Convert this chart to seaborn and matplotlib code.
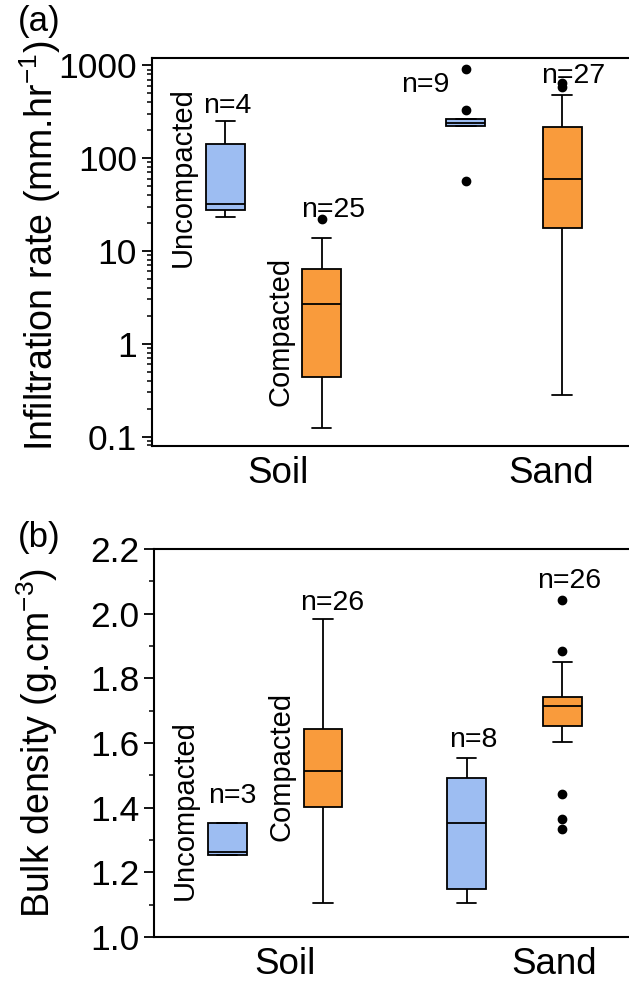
import matplotlib
matplotlib.use("Agg")
import matplotlib.pyplot as plt
from matplotlib.ticker import FuncFormatter, LogLocator, MultipleLocator, FixedLocator
import pandas as pd
import seaborn as sns

materials = ["Soil", "Sand"]
states = ["Uncompacted", "Compacted"]
box_colors = ["#9dbdf2", "#f99b3c"]

# Infiltration rate (mm/hr): lower whisker, Q1, median, Q3, upper whisker
rate_soil_unc = [23.1, 27.4, 32.0, 141.0, 251.0]
rate_soil_cmp = [0.122, 0.436, 2.69, 6.35, 13.8]
rate_sand_unc = [223.0, 223.0, 237.0, 262.0, 262.0]
rate_sand_cmp = [0.283, 17.5, 59.0, 215.0, 479.0]
# Infiltration rate outliers
rate_soil_cmp_out = [21.9]
rate_sand_unc_out = [56.8, 330.0, 906.0]
rate_sand_cmp_out = [580.0, 640.0]
rate_counts = [4, 25, 9, 27]

# Bulk density (g/cm3): lower whisker, Q1, median, Q3, upper whisker
dens_soil_unc = [1.254, 1.254, 1.264, 1.353, 1.353]
dens_soil_cmp = [1.104, 1.403, 1.514, 1.643, 1.983]
dens_sand_unc = [1.104, 1.148, 1.354, 1.493, 1.553]
dens_sand_cmp = [1.603, 1.653, 1.714, 1.743, 1.852]
# Bulk density outliers
dens_sand_cmp_out = [1.335, 1.364, 1.442, 1.884, 2.042]
dens_counts = [3, 26, 8, 26]


def observations(summary, outliers=()):
    """Sample whose linear-percentile Tukey box equals the five-number summary."""
    lo, q1, med, q3, hi = summary
    low = sorted(v for v in outliers if v < lo)
    high = sorted(v for v in outliers if v > hi)
    m = max(len(low), len(high)) + 1
    lower = low + [lo] * (m - len(low))
    upper = [hi] * (m - len(high)) + high
    return lower + [q1] * m + [med] + [q3] * m + upper


def frame(groups):
    rows = []
    for (material, state), values in groups.items():
        rows += [{"material": material, "state": state, "value": v} for v in values]
    return pd.DataFrame(rows)


rate_df = frame({
    ("Soil", "Uncompacted"): observations(rate_soil_unc),
    ("Soil", "Compacted"): observations(rate_soil_cmp, rate_soil_cmp_out),
    ("Sand", "Uncompacted"): observations(rate_sand_unc, rate_sand_unc_out),
    ("Sand", "Compacted"): observations(rate_sand_cmp, rate_sand_cmp_out),
})
dens_df = frame({
    ("Soil", "Uncompacted"): observations(dens_soil_unc),
    ("Soil", "Compacted"): observations(dens_soil_cmp),
    ("Sand", "Uncompacted"): observations(dens_sand_unc),
    ("Sand", "Compacted"): observations(dens_sand_cmp, dens_sand_cmp_out),
})

sns.set_style("ticks")
plt.rcParams["font.family"] = ["Liberation Sans", "DejaVu Sans"]
plt.rcParams["mathtext.fontset"] = "custom"
plt.rcParams["mathtext.rm"] = "Liberation Sans"
plt.rcParams["mathtext.default"] = "regular"
for key in ("text.color", "axes.labelcolor", "axes.edgecolor",
            "xtick.color", "ytick.color"):
    plt.rcParams[key] = "black"

W, H = 629, 981
fig = plt.figure(figsize=(W / 100, H / 100), dpi=100)
ax1 = fig.add_axes([152.3 / W, 1 - 446 / H, 1 - 152.3 / W, (446 - 58.3) / H])
ax2 = fig.add_axes([154.3 / W, 1 - 937 / H, 1 - 154.3 / W, (937 - 549) / H])

box_kws = dict(x="material", y="value", hue="state", order=materials,
               hue_order=states, palette=box_colors, saturation=1,
               width=0.8, gap=0.595, whis=1.5, linecolor="black",
               linewidth=1.3, legend=False,
               flierprops=dict(marker="o", markerfacecolor="black",
                               markeredgecolor="black", markersize=6))

sns.boxplot(data=rate_df, ax=ax1, **box_kws)
sns.boxplot(data=dens_df, ax=ax2, **box_kws)

ax1.set_yscale("log")
ax1.set_ylim(0.079, 1190)
ax1.yaxis.set_major_locator(FixedLocator([0.1, 1, 10, 100, 1000]))
ax1.yaxis.set_major_formatter(FuncFormatter(lambda v, p: f"{v:g}"))
ax1.yaxis.set_minor_locator(LogLocator(base=10, subs=range(2, 10), numticks=20))

ax2.set_ylim(1.0, 2.2)
ax2.yaxis.set_major_locator(MultipleLocator(0.2))
ax2.yaxis.set_minor_locator(MultipleLocator(0.1))
ax2.yaxis.set_major_formatter(FuncFormatter(lambda v, p: f"{v:.1f}"))

for ax, ticks in ((ax1, [0.019, 1.154]), (ax2, [0.04, 1.166])):
    ax.set_xlim(-0.504, 1.478)
    ax.set_xticks(ticks)
    ax.set_xticklabels(materials)
    ax.set_xlabel("")
    ax.set_ylabel("")
    ax.tick_params(axis="x", length=0, labelsize=26.5, pad=7)
    ax.tick_params(axis="y", which="major", direction="out", length=7,
                   width=1.3, labelsize=25.5, pad=4)
    ax.tick_params(axis="y", which="minor", direction="out", length=3.5,
                   width=1.1)
    for side in ("left", "bottom", "top"):
        ax.spines[side].set_visible(True)
        ax.spines[side].set_linewidth(1.5)
    ax.spines["right"].set_visible(False)

# Sample-size labels
n_fs = 20.5
rate_n_pos = [(-0.193, 306), (0.247, 23.4), (0.63, 515), (1.245, 644)]
for (x, y), n in zip(rate_n_pos, rate_counts):
    ax1.text(x, y, f"n={n}", ha="center", va="baseline", fontsize=n_fs)
dens_n_pos = [(-0.177, 1.414), (0.24, 2.011), (0.828, 1.588), (1.228, 2.08)]
for (x, y), n in zip(dens_n_pos, dens_counts):
    ax2.text(x, y, f"n={n}", ha="center", va="baseline", fontsize=n_fs)

# Treatment labels beside the soil boxes
lab_fs = 21
ax1.text(-0.376, 62.7, "Uncompacted", rotation=90, ha="center", va="center", fontsize=lab_fs)
ax1.text(0.027, 1.34, "Compacted", rotation=90, ha="center", va="center", fontsize=lab_fs)
ax2.text(-0.377, 1.393, "Uncompacted", rotation=90, ha="center", va="center", fontsize=lab_fs)
ax2.text(0.026, 1.526, "Compacted", rotation=90, ha="center", va="center", fontsize=lab_fs)

fig.text(40 / W, 1 - 246 / H, "Infiltration rate (mm.hr$^{-1}$)", rotation=90,
         ha="center", va="center", fontsize=27)
fig.text(37 / W, 1 - 743 / H, "Bulk density (g.cm$^{-3}$)", rotation=90,
         ha="center", va="center", fontsize=27)
fig.text(18 / W, 1 - 5 / H, "(a)", ha="left", va="top", fontsize=25)
fig.text(18 / W, 1 - 521 / H, "(b)", ha="left", va="top", fontsize=25)

fig.savefig("out.png", dpi=100)
